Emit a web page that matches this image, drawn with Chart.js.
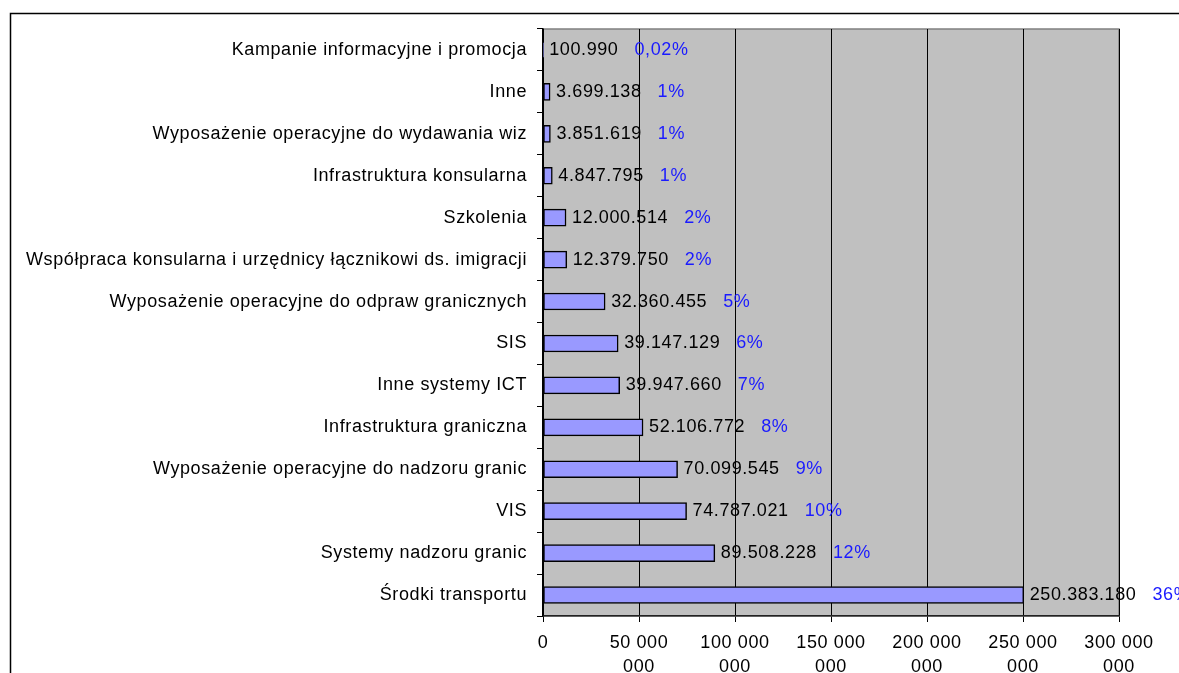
<!DOCTYPE html>
<html>
<head>
<meta charset="utf-8">
<script src="https://cdn.jsdelivr.net/npm/chart.js@4"></script>
<style>
  html, body { margin: 0; padding: 0; background: #fff; overflow: hidden; }
  #wrap { width: 1179px; height: 673px; position: relative; }
</style>
</head>
<body>
<div id="wrap"><canvas id="chart"></canvas></div>
<script>
const categories = [
    'Kampanie informacyjne i promocja',
    'Inne',
    'Wyposażenie operacyjne do wydawania wiz',
    'Infrastruktura konsularna',
    'Szkolenia',
    'Współpraca konsularna i urzędnicy łącznikowi ds. imigracji',
    'Wyposażenie operacyjne do odpraw granicznych',
    'SIS',
    'Inne systemy ICT',
    'Infrastruktura graniczna',
    'Wyposażenie operacyjne do nadzoru granic',
    'VIS',
    'Systemy nadzoru granic',
    'Środki transportu'
];
const amounts = [100990, 3699138, 3851619, 4847795, 12000514, 12379750, 32360455,
    39147129, 39947660, 52106772, 70099545, 74787021, 89508228, 250383180];
const shares = ['0,02%', '1%', '1%', '1%', '2%', '2%', '5%', '6%', '7%', '8%', '9%', '10%', '12%', '36%'];
const xTicks = [0, 50000000, 100000000, 150000000, 200000000, 250000000, 300000000];

const FONT = '"Liberation Sans", Arial, sans-serif';

function dotted(n) {
    return String(n).replace(/\B(?=(\d{3})+(?!\d))/g, '.');
}

function tickLabel(v) {
    if (v === 0) return '0';
    let s = String(v).replace(/\B(?=(\d{3})+(?!\d))/g, ' ');
    let parts = s.split(' ');
    let last = parts.pop();
    return [parts.join(' '), last];
}

const backdrop = {
    id: 'backdrop',
    beforeDraw(chart) {
        const {ctx, chartArea: a} = chart;
        ctx.letterSpacing = '0.6px';
        ctx.save();
        ctx.strokeStyle = '#000';
        ctx.lineWidth = 1.5;
        ctx.strokeRect(10.5, 13.5, 1400, 900);
        ctx.fillStyle = '#c0c0c0';
        ctx.fillRect(a.left, a.top, a.right - a.left, a.bottom - a.top);
        ctx.strokeStyle = '#808080';
        ctx.lineWidth = 1.5;
        ctx.strokeRect(a.left, a.top, a.right - a.left, a.bottom - a.top);
        ctx.restore();
    }
};

const valueLabels = {
    id: 'valueLabels',
    afterDatasetsDraw(chart) {
        const ctx = chart.ctx;
        const meta = chart.getDatasetMeta(0);
        ctx.save();
        ctx.letterSpacing = '0.6px';
        ctx.font = '18px ' + FONT;
        ctx.textBaseline = 'middle';
        ctx.textAlign = 'left';
        meta.data.forEach((bar, i) => {
            let txt = dotted(amounts[i]);
            let x = bar.x + 6;
            ctx.fillStyle = '#000';
            ctx.fillText(txt, x, bar.y);
            x += ctx.measureText(txt).width + 16;
            ctx.fillStyle = '#1a1aff';
            ctx.fillText(shares[i], x, bar.y);
        });
        ctx.restore();
    }
};

const data = {
    labels: categories,
    datasets: [{
        data: amounts,
        backgroundColor: '#9999ff',
        borderColor: '#000',
        borderWidth: 1.5,
        borderSkipped: false,
        barThickness: 17
    }]
};

const config = {
    type: 'bar',
    data: data,
    options: {
        indexAxis: 'y',
        responsive: false,
        animation: false,
        layout: { padding: { top: 29, right: 60, left: 0, bottom: 0 } },
        plugins: {
            legend: { display: false },
            tooltip: { enabled: false }
        },
        scales: {
            x: {
                min: 0,
                max: 300000000,
                afterBuildTicks(scale) {
                    scale.ticks = xTicks.map(v => ({value: v}));
                },
                afterFit(scale) { scale.height = 57; },
                grid: {
                    color: '#000',
                    lineWidth: 1,
                    tickLength: 6,
                    drawOnChartArea: true
                },
                border: { color: '#222', width: 1.5 },
                ticks: {
                    color: '#000',
                    font: { family: FONT, size: 18, lineHeight: 1.35 },
                    padding: 9,
                    maxRotation: 0,
                    autoSkip: false,
                    callback: v => tickLabel(v)
                }
            },
            y: {
                offset: true,
                afterFit(scale) { scale.width = 543; },
                grid: {
                    offset: true,
                    drawOnChartArea: false,
                    color: '#000',
                    tickLength: 6
                },
                border: { color: '#000', width: 1.5 },
                ticks: {
                    color: '#000',
                    font: { family: FONT, size: 18 },
                    padding: 10,
                    autoSkip: false
                }
            }
        }
    },
    plugins: [backdrop, valueLabels]
};

const canvas = document.getElementById('chart');
canvas.width = 1179;
canvas.height = 673;
new Chart(canvas.getContext('2d'), config);
</script>
</body>
</html>
